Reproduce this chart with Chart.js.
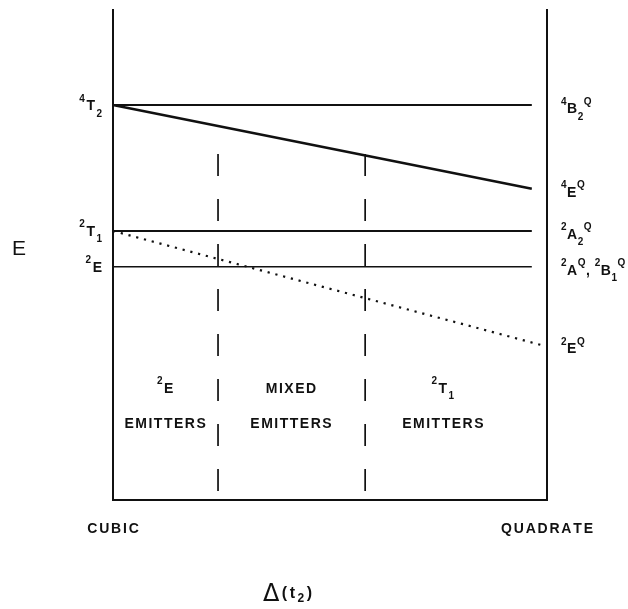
<!DOCTYPE html>
<html>
<head>
<meta charset="utf-8">
<script src="https://cdn.jsdelivr.net/npm/chart.js@4/dist/chart.umd.min.js"></script>
<style>
  html, body { margin: 0; padding: 0; background: #fff; }
  #wrap { width: 628px; height: 609px; position: relative; }
</style>
</head>
<body>
<div id="wrap"><canvas id="c"></canvas></div>
<script>
// Term energies (arbitrary units). x = 0 is the cubic limit, x = 1 the quadrate limit.
// Markup: ^x = superscript character, _x = subscript character.
const cubicLevels = ['^4T_2', '^2T_1', '^2E'];
const cubicEnergy = [8.06, 5.49, 4.76];
const quadLevels = ['^4B_2^Q', '^4E^Q', '^2A_2^Q', '^2A^Q, ^2B_1^Q', '^2E^Q'];
const quadEnergy = [8.06, 6.35, 5.49, 4.76, 3.16];
// Correlation lines: [cubic index, quadrate index, line style]
const links = [[0, 0, 'solid'], [0, 1, 'heavy'], [1, 2, 'solid'], [2, 3, 'thin'], [1, 4, 'dotted']];
const solidEnd = 0.965;
const dottedEnd = 0.988;
// Boundaries between emitter regions
const dividers = [0.242, 0.581];
const dividerTop = 7.06;
const regionTop = ['^2E', 'MIXED', '^2T_1'];
const regionBottom = ['EMITTERS', 'EMITTERS', 'EMITTERS'];
const regionCenter = [0.12, 0.41, 0.76];
const limitLabels = ['CUBIC', 'QUADRATE'];
const limitX = [0, 1];

const INK = '#111';
const FONT = '"Liberation Sans", Arial, sans-serif';

const styles = {
  solid:  { borderWidth: 2,   borderDash: [] },
  heavy:  { borderWidth: 2.6, borderDash: [] },
  thin:   { borderWidth: 1.6, borderDash: [] },
  dotted: { borderWidth: 2.2, borderDash: [2.2, 5.8] }
};

const datasets = links.map(([a, b, st]) => ({
  data: [{ x: 0, y: cubicEnergy[a] }, { x: st === 'dotted' ? dottedEnd : solidEnd, y: quadEnergy[b] }],
  showLine: true, pointRadius: 0, borderColor: INK,
  borderWidth: styles[st].borderWidth, borderDash: styles[st].borderDash,
  borderCapStyle: 'butt', clip: false
}));
dividers.forEach(d => datasets.push({
  data: [{ x: d, y: dividerTop }, { x: d, y: 0 }],
  showLine: true, pointRadius: 0, borderColor: INK, borderWidth: 1.7,
  borderDash: [22, 23], borderCapStyle: 'butt', clip: false
}));

function parseRich(s) {
  const out = [];
  for (let i = 0; i < s.length; i++) {
    const c = s[i];
    if (c === '^') out.push({ t: s[++i], k: 'sup' });
    else if (c === '_') out.push({ t: s[++i], k: 'sub' });
    else out.push({ t: c, k: 'main' });
  }
  return out;
}

// Draws text with super/subscripts; y is the vertical centre of the capitals.
function drawRich(ctx, s, x, y, align, gap) {
  const parts = parseRich(s);
  const fonts = { main: 'bold 14px ' + FONT, sup: 'bold 10px ' + FONT, sub: 'bold 10px ' + FONT };
  const dy = { main: 5, sup: -3.5, sub: 11.5 };
  let w = 0;
  const widths = parts.map(p => { ctx.font = fonts[p.k]; const m = ctx.measureText(p.t).width + gap; w += m; return m; });
  w -= gap;
  let cx = align === 'right' ? x - w : align === 'center' ? x - w / 2 : x;
  parts.forEach((p, i) => { ctx.font = fonts[p.k]; ctx.fillText(p.t, cx, y + dy[p.k]); cx += widths[i]; });
}

const labelPlugin = {
  id: 'termLabels',
  afterDatasetsDraw(chart) {
    const { ctx, scales: { x, y }, chartArea } = chart;
    ctx.save();
    ctx.fillStyle = INK;
    ctx.textAlign = 'left';
    ctx.textBaseline = 'alphabetic';
    cubicLevels.forEach((s, i) => drawRich(ctx, s, x.getPixelForValue(0) - 11, y.getPixelForValue(cubicEnergy[i]), 'right', 1.5));
    quadLevels.forEach((s, i) => drawRich(ctx, s, x.getPixelForValue(1) + 14, y.getPixelForValue(quadEnergy[i]) + 3, 'left', 0.5));
    regionTop.forEach((s, i) => drawRich(ctx, s, x.getPixelForValue(regionCenter[i]), y.getPixelForValue(2.29), 'center', 1.5));
    regionBottom.forEach((s, i) => drawRich(ctx, s, x.getPixelForValue(regionCenter[i]), y.getPixelForValue(1.57), 'center', 1.5));
    limitLabels.forEach((s, i) => drawRich(ctx, s, x.getPixelForValue(limitX[i]), chartArea.bottom + 28, 'center', 1.8));

    // Energy axis title
    ctx.font = '21px ' + FONT;
    ctx.textAlign = 'center';
    ctx.textBaseline = 'middle';
    ctx.fillText('E', 19, y.getPixelForValue(5.12));

    // Splitting parameter title: Δ(t₂)
    const tx = x.getPixelForValue(0.402), ty = chartArea.bottom + 92;
    const g = 2.5;
    ctx.textAlign = 'left';
    ctx.textBaseline = 'alphabetic';
    ctx.font = '24px "DejaVu Sans"';
    const dw = ctx.measureText('\u0394').width;
    ctx.font = 'bold 16px ' + FONT;
    const ow = ctx.measureText('(').width, tw = ctx.measureText('t').width, cw = ctx.measureText(')').width;
    ctx.font = 'bold 12px ' + FONT;
    const sw = ctx.measureText('2').width;
    let cx = tx - (dw + ow + tw + sw + cw + 4 * g) / 2;
    ctx.font = '24px "DejaVu Sans"';
    ctx.fillText('\u0394', cx, ty + 9); cx += dw + g;
    ctx.font = 'bold 16px ' + FONT;
    ctx.fillText('(', cx, ty + 6); cx += ow + g;
    ctx.fillText('t', cx, ty + 6); cx += tw + g;
    ctx.font = 'bold 12px ' + FONT;
    ctx.fillText('2', cx, ty + 10); cx += sw + g;
    ctx.font = 'bold 16px ' + FONT;
    ctx.fillText(')', cx, ty + 6);
    ctx.restore();
  }
};

const hiddenAxis = (extra) => Object.assign({
  type: 'linear', min: 0, max: 10,
  ticks: { display: false },
  grid: { display: true, drawOnChartArea: false, drawTicks: false, tickLength: 0 },
  border: { display: true, color: INK, width: 2 }
}, extra);

new Chart(document.getElementById('c'), {
  type: 'scatter',
  data: { datasets },
  options: {
    responsive: true,
    maintainAspectRatio: false,
    animation: false,
    events: [],
    layout: { padding: { left: 113, right: 81, top: 10, bottom: 109 } },
    plugins: { legend: { display: false }, tooltip: { enabled: false } },
    scales: {
      x: hiddenAxis({ min: 0, max: 1, position: 'bottom' }),
      y: hiddenAxis({ position: 'left' }),
      y2: hiddenAxis({ position: 'right' })
    }
  },
  plugins: [labelPlugin]
});
</script>
</body>
</html>
